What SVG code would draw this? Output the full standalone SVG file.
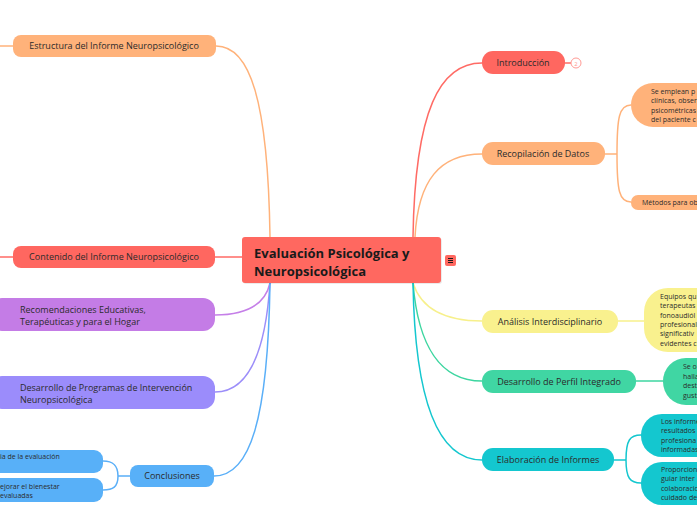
<svg xmlns="http://www.w3.org/2000/svg" width="697" height="520" viewBox="0 0 697 520">
<style>
text{font-family:"Open Sans","Noto Sans","DejaVu Sans",sans-serif;fill:#2b2b2b}
.t{font-size:9px}
.tc{font-size:9px;text-anchor:middle}
.s{font-size:7px}
.c{fill:none;stroke-width:1.5}
.main{font-size:13px;font-weight:bold;fill:#1a1a1a}
</style>
<rect width="697" height="520" fill="#fff"/>
<g id="connectors">
<path class="c" stroke="#FF6B65" d="M413,237 C415,110 440,63 482,63"/>
<path class="c" stroke="#FF6B65" stroke-width="1" d="M565,63 L571,63"/>
<path class="c" stroke="#FFB27A" d="M415,237 C418,180 440,154 482,154"/>
<path class="c" stroke="#FFB27A" stroke-width="1" d="M605,154 L617,154 M617,154 C617,118 619,105 631,105 M617,154 C617,190 619,202 631,202"/>
<path class="c" stroke="#F7F08B" d="M413,283 C420,305 440,321 482,321"/>
<path class="c" stroke="#F7F08B" d="M618,321 L644,321"/>
<path class="c" stroke="#3DD6A0" d="M413,283 C418,345 440,381 482,381"/>
<path class="c" stroke="#3DD6A0" d="M636,381 L663,381"/>
<path class="c" stroke="#14C7CF" d="M413,283 C415,405 440,460 482,460"/>
<path class="c" stroke="#14C7CF" stroke-width="1" d="M614,460 L626,460 M626,460 C626,440 630,435 641,435 M626,460 C626,478 630,483 641,483"/>
<path class="c" stroke="#FFB27A" d="M270,237 C268,100 250,46 216,46"/>
<path class="c" stroke="#FFB27A" d="M0,46 L13,46"/>
<path class="c" stroke="#FF6B65" d="M242,257 L215,257 M0,257 L13,257"/>
<path class="c" stroke="#C57FE8" d="M270,283 C265,305 245,315 215,315"/>
<path class="c" stroke="#9C8EF9" d="M270,283 C265,360 245,392 215,392"/>
<path class="c" stroke="#5AAFF8" d="M270,283 C268,420 250,476 214,476"/>
<path class="c" stroke="#5AAFF8" stroke-width="1" d="M130,476 L118,476 M118,476 C118,465 113,461 103,461 M118,476 C118,487 113,490 103,490"/>
</g>
<g id="central">
<rect x="243" y="238" width="199" height="46" rx="3" fill="#000" opacity="0.08"/>
<rect x="242" y="237" width="199" height="46" rx="3" fill="#FF6860"/>
<text class="main" x="254" y="258">Evaluación Psicológica y</text>
<text class="main" x="254" y="276">Neuropsicológica</text>
<rect x="445" y="255" width="11" height="11" rx="2" fill="#FF6860"/>
<path d="M448,258.5h5M448,260.5h5M448,262.5h5" stroke="#1a1a1a" stroke-width="1"/>
</g>
<g id="introduccion">
<rect x="482" y="51" width="83" height="23" rx="11" fill="#FF6760"/>
<text class="tc" x="523" y="66">Introducción</text>
<circle cx="576" cy="63" r="5" fill="#fff" stroke="#FF9A94" stroke-width="1"/>
<text x="576" y="65.5" style="font-size:6px;text-anchor:middle;fill:#FF9A94">2</text>
</g>
<g id="recopilacion">
<rect x="482" y="142" width="123" height="23" rx="11" fill="#FFB27A"/>
<text class="tc" x="543" y="157">Recopilación de Datos</text>
</g>
<g id="recop-sub1">
<rect x="631" y="83" width="100" height="44" rx="22" fill="#FFB27A"/>
<text class="s" x="651" y="94">Se emplean p</text>
<text class="s" x="651" y="103">clínicas, obser</text>
<text class="s" x="651" y="113">psicométricas</text>
<text class="s" x="651" y="122">del paciente c</text>
</g>
<g id="recop-sub2">
<rect x="631" y="195" width="100" height="15" rx="7" fill="#FFB27A"/>
<text class="s" x="642" y="205">Métodos para ob</text>
</g>
<g id="analisis">
<rect x="482" y="310" width="136" height="23" rx="11" fill="#F9F18E"/>
<text class="tc" x="550" y="325">Análisis Interdisciplinario</text>
</g>
<g id="analisis-sub">
<rect x="644" y="288" width="100" height="64" rx="24" fill="#F9F18E"/>
<text class="s" x="660" y="299">Equipos qu</text>
<text class="s" x="660" y="308">terapeutas</text>
<text class="s" x="660" y="318">fonoaudiól</text>
<text class="s" x="660" y="327">profesional</text>
<text class="s" x="660" y="336">significativ</text>
<text class="s" x="660" y="346">evidentes c</text>
</g>
<g id="perfil">
<rect x="482" y="370" width="154" height="23" rx="11" fill="#40D6A3"/>
<text class="tc" x="559" y="385">Desarrollo de Perfil Integrado</text>
</g>
<g id="perfil-sub">
<rect x="663" y="358" width="80" height="47" rx="23" fill="#40D6A3"/>
<text class="s" x="683" y="369">Se o</text>
<text class="s" x="683" y="379">halla</text>
<text class="s" x="683" y="388">dest</text>
<text class="s" x="683" y="398">gust</text>
</g>
<g id="elaboracion">
<rect x="482" y="448" width="132" height="23" rx="11" fill="#14C7CF"/>
<text class="tc" x="548" y="463">Elaboración de Informes</text>
</g>
<g id="elab-sub1">
<rect x="641" y="414" width="100" height="43" rx="21" fill="#14C7CF"/>
<text class="s" x="661" y="424">Los informe</text>
<text class="s" x="661" y="433">resultados</text>
<text class="s" x="661" y="443">profesiona</text>
<text class="s" x="661" y="452">informadas</text>
</g>
<g id="elab-sub2">
<rect x="641" y="462" width="100" height="43" rx="21" fill="#14C7CF"/>
<text class="s" x="661" y="472">Proporcion</text>
<text class="s" x="661" y="481">guiar inter</text>
<text class="s" x="661" y="491">colaboracio</text>
<text class="s" x="661" y="500">cuidado de</text>
</g>
<g id="estructura">
<rect x="13" y="35" width="203" height="22" rx="8" fill="#FFB27A"/>
<text class="tc" x="114" y="49">Estructura del Informe Neuropsicológico</text>
</g>
<g id="contenido">
<rect x="13" y="246" width="202" height="22" rx="8" fill="#FF6760"/>
<text class="tc" x="114" y="260">Contenido del Informe Neuropsicológico</text>
</g>
<g id="recomendaciones">
<rect x="-10" y="298" width="225" height="33" rx="12" fill="#C47CE6"/>
<text class="t" x="20" y="313">Recomendaciones Educativas,</text>
<text class="t" x="20" y="325">Terapéuticas y para el Hogar</text>
</g>
<g id="programas">
<rect x="-10" y="376" width="225" height="33" rx="12" fill="#9B8CFB"/>
<text class="t" x="20" y="391">Desarrollo de Programas de Intervención</text>
<text class="t" x="20" y="403">Neuropsicológica</text>
</g>
<g id="conclusiones">
<rect x="130" y="465" width="84" height="22" rx="8" fill="#58B0F8"/>
<text class="tc" x="172" y="479">Conclusiones</text>
</g>
<g id="concl-sub1">
<rect x="-20" y="450" width="123" height="23" rx="9" fill="#58B0F8"/>
<text class="s" x="0" y="459">ia de la evaluación</text>
</g>
<g id="concl-sub2">
<rect x="-20" y="478" width="123" height="24" rx="9" fill="#58B0F8"/>
<text class="s" x="0" y="489">ejorar el bienestar</text>
<text class="s" x="0" y="498">evaluadas</text>
</g>
</svg>
